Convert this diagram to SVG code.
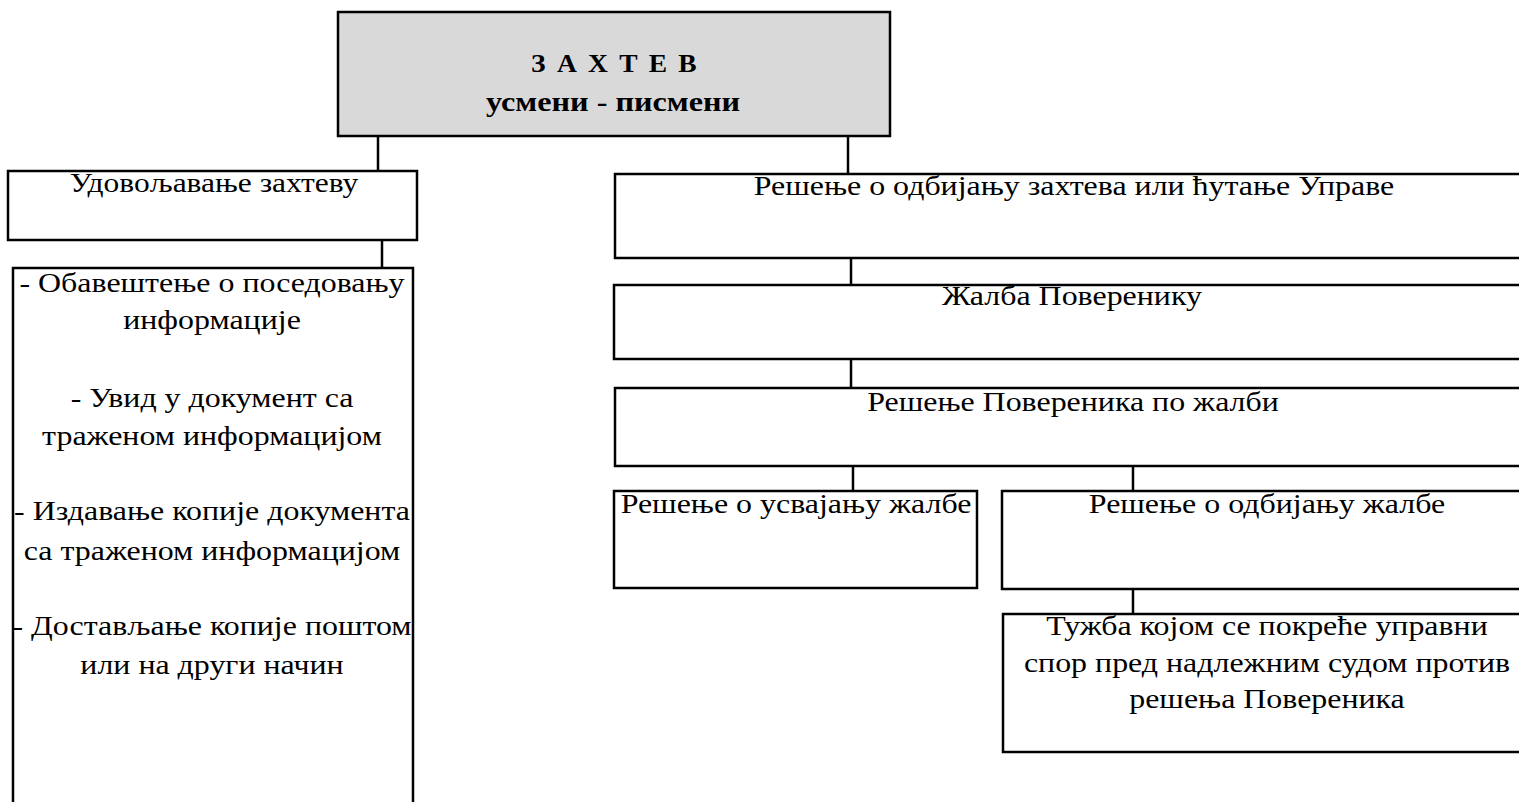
<svg xmlns="http://www.w3.org/2000/svg" width="1519" height="802" viewBox="0 0 1519 802">
<style>
.box{fill:#ffffff;stroke:#000000;stroke-width:2.5}
.top{fill:#d9d9d9;stroke:#000000;stroke-width:2.5}
.t{font-family:"Liberation Serif","Times New Roman",serif;font-size:28px;fill:#000000;text-anchor:middle}
.b{font-family:"Liberation Serif","Times New Roman",serif;font-weight:bold;fill:#000000;text-anchor:middle}
.c{stroke:#000000;stroke-width:2.5;fill:none}
</style>
<rect width="1519" height="802" fill="#ffffff"/>
<g id="connectors">
<line class="c" x1="378" y1="136" x2="378" y2="171"/>
<line class="c" x1="848" y1="136" x2="848" y2="174"/>
<line class="c" x1="382" y1="240" x2="382" y2="268"/>
<line class="c" x1="851" y1="258" x2="851" y2="285"/>
<line class="c" x1="851" y1="359" x2="851" y2="388"/>
<line class="c" x1="853" y1="466" x2="853" y2="491"/>
<line class="c" x1="1133" y1="466" x2="1133" y2="491"/>
<line class="c" x1="1133" y1="589" x2="1133" y2="614"/>
</g>
<g id="zahtev">
<rect class="top" x="338" y="12" width="552" height="124"/>
<text class="b" font-size="25" letter-spacing="2" transform="translate(615 72) scale(1.1 1)">З А Х Т Е В</text>
<text class="b" font-size="28" transform="translate(613 111) scale(1.15 1)">усмени - писмени</text>
</g>
<g id="udovoljavanje">
<rect class="box" x="8" y="171" width="409" height="69"/>
<text class="t" transform="translate(214 192) scale(1.125 1)">Удовољавање захтеву</text>
</g>
<g id="nacini">
<rect class="box" x="13" y="268" width="400" height="560"/>
<text class="t" transform="translate(212 292) scale(1.14 1)">- Обавештење о поседовању</text>
<text class="t" transform="translate(212 329) scale(1.14 1)">информације</text>
<text class="t" transform="translate(212 407) scale(1.14 1)">- Увид у документ са</text>
<text class="t" transform="translate(212 445) scale(1.14 1)">траженом информацијом</text>
<text class="t" transform="translate(212 520) scale(1.14 1)">- Издавање копије документа</text>
<text class="t" transform="translate(212 560) scale(1.14 1)">са траженом информацијом</text>
<text class="t" transform="translate(212 635) scale(1.14 1)">- Достављање копије поштом</text>
<text class="t" transform="translate(212 674) scale(1.14 1)">или на други начин</text>
</g>
<g id="odbijanje">
<rect class="box" x="615" y="174" width="917" height="84"/>
<text class="t" transform="translate(1074 195) scale(1.14 1)">Решење о одбијању захтева или ћутање Управе</text>
</g>
<g id="zalba">
<rect class="box" x="614" y="285" width="918" height="74"/>
<text class="t" transform="translate(1072 305) scale(1.14 1)">Жалба Поверенику</text>
</g>
<g id="resenje-poverenika">
<rect class="box" x="615" y="388" width="917" height="78"/>
<text class="t" transform="translate(1073 411) scale(1.14 1)">Решење Повереника по жалби</text>
</g>
<g id="usvajanje">
<rect class="box" x="614" y="491" width="363" height="97"/>
<text class="t" transform="translate(796 513) scale(1.14 1)">Решење о усвајању жалбе</text>
</g>
<g id="odbijanje-zalbe">
<rect class="box" x="1002" y="491" width="530" height="98"/>
<text class="t" transform="translate(1267 513) scale(1.14 1)">Решење о одбијању жалбе</text>
</g>
<g id="tuzba">
<rect class="box" x="1003" y="614" width="529" height="138"/>
<text class="t" transform="translate(1267 635) scale(1.14 1)">Тужба којом се покреће управни</text>
<text class="t" transform="translate(1267 672) scale(1.14 1)">спор пред надлежним судом против</text>
<text class="t" transform="translate(1267 708) scale(1.14 1)">решења Повереника</text>
</g>
</svg>
